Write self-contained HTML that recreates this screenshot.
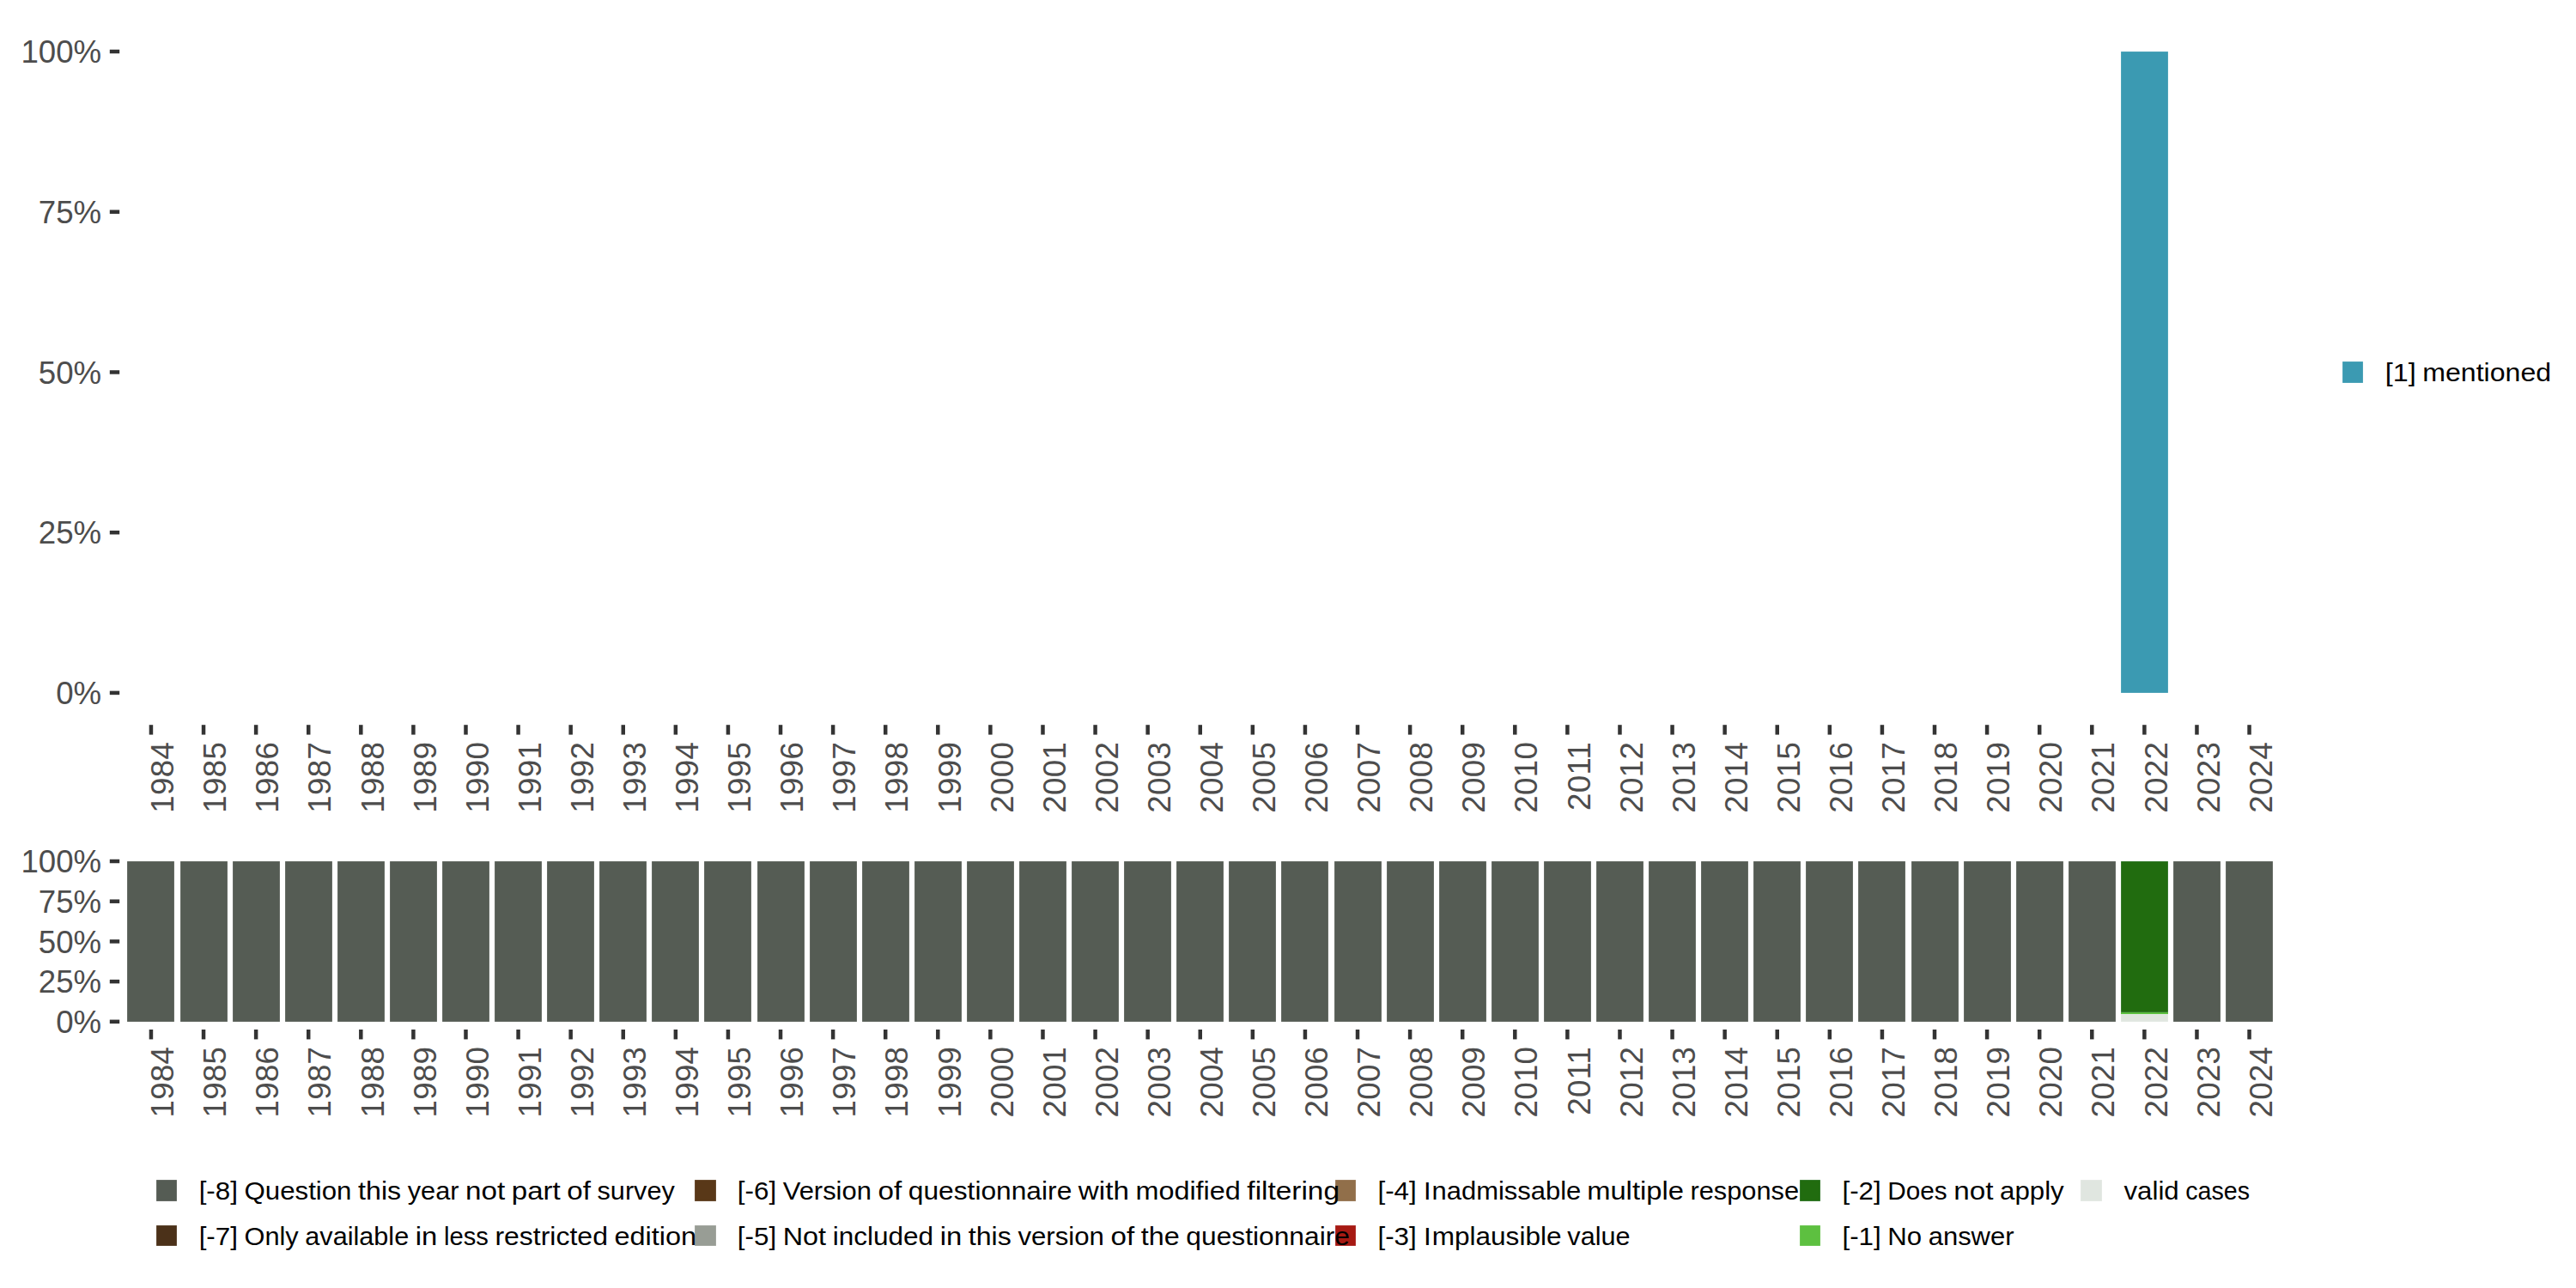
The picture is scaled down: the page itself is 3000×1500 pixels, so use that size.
<!DOCTYPE html>
<html lang="en"><head><meta charset="utf-8"><title>Item distribution by survey year</title>
<style>
html,body{margin:0;padding:0;background:#fff;}
body{width:3000px;height:1500px;overflow:hidden;}
svg{display:block;}
text{font-family:"Liberation Sans",sans-serif;}
.ax{font-size:36.67px;fill:#4d4d4d;}
.xl{letter-spacing:0.3px;}
.lg{font-size:30.00px;fill:#000;}
.tk{stroke:#333333;stroke-width:4.50;fill:none;}
</style></head><body>
<svg width="3000" height="1500" viewBox="0 0 3000 1500">
<rect x="0" y="0" width="3000" height="1500" fill="#ffffff"/>
<g id="upper">
<rect x="2470.5" y="60.5" width="54.0" height="746.0" fill="#3b9ab2" stroke="#258fa9" stroke-opacity=".65" stroke-width="1"/>
<line class="tk" x1="127.80" x2="139.20" y1="60.00" y2="60.00"/>
<text class="ax" text-anchor="end" x="118.20" y="73.10">100%</text>
<line class="tk" x1="127.80" x2="139.20" y1="246.72" y2="246.72"/>
<text class="ax" text-anchor="end" x="118.20" y="259.82">75%</text>
<line class="tk" x1="127.80" x2="139.20" y1="433.45" y2="433.45"/>
<text class="ax" text-anchor="end" x="118.20" y="446.55">50%</text>
<line class="tk" x1="127.80" x2="139.20" y1="620.17" y2="620.17"/>
<text class="ax" text-anchor="end" x="118.20" y="633.27">25%</text>
<line class="tk" x1="127.80" x2="139.20" y1="806.90" y2="806.90"/>
<text class="ax" text-anchor="end" x="118.20" y="820.00">0%</text>
<line class="tk" x1="175.95" x2="175.95" y1="844.20" y2="855.60"/>
<text class="ax xl" text-anchor="end" transform="translate(202.15 863.90) rotate(-90)">1984</text>
<line class="tk" x1="237.04" x2="237.04" y1="844.20" y2="855.60"/>
<text class="ax xl" text-anchor="end" transform="translate(263.24 863.90) rotate(-90)">1985</text>
<line class="tk" x1="298.13" x2="298.13" y1="844.20" y2="855.60"/>
<text class="ax xl" text-anchor="end" transform="translate(324.33 863.90) rotate(-90)">1986</text>
<line class="tk" x1="359.22" x2="359.22" y1="844.20" y2="855.60"/>
<text class="ax xl" text-anchor="end" transform="translate(385.42 863.90) rotate(-90)">1987</text>
<line class="tk" x1="420.31" x2="420.31" y1="844.20" y2="855.60"/>
<text class="ax xl" text-anchor="end" transform="translate(446.51 863.90) rotate(-90)">1988</text>
<line class="tk" x1="481.40" x2="481.40" y1="844.20" y2="855.60"/>
<text class="ax xl" text-anchor="end" transform="translate(507.60 863.90) rotate(-90)">1989</text>
<line class="tk" x1="542.49" x2="542.49" y1="844.20" y2="855.60"/>
<text class="ax xl" text-anchor="end" transform="translate(568.69 863.90) rotate(-90)">1990</text>
<line class="tk" x1="603.58" x2="603.58" y1="844.20" y2="855.60"/>
<text class="ax xl" text-anchor="end" transform="translate(629.78 863.90) rotate(-90)">1991</text>
<line class="tk" x1="664.67" x2="664.67" y1="844.20" y2="855.60"/>
<text class="ax xl" text-anchor="end" transform="translate(690.87 863.90) rotate(-90)">1992</text>
<line class="tk" x1="725.76" x2="725.76" y1="844.20" y2="855.60"/>
<text class="ax xl" text-anchor="end" transform="translate(751.96 863.90) rotate(-90)">1993</text>
<line class="tk" x1="786.85" x2="786.85" y1="844.20" y2="855.60"/>
<text class="ax xl" text-anchor="end" transform="translate(813.05 863.90) rotate(-90)">1994</text>
<line class="tk" x1="847.94" x2="847.94" y1="844.20" y2="855.60"/>
<text class="ax xl" text-anchor="end" transform="translate(874.14 863.90) rotate(-90)">1995</text>
<line class="tk" x1="909.03" x2="909.03" y1="844.20" y2="855.60"/>
<text class="ax xl" text-anchor="end" transform="translate(935.23 863.90) rotate(-90)">1996</text>
<line class="tk" x1="970.12" x2="970.12" y1="844.20" y2="855.60"/>
<text class="ax xl" text-anchor="end" transform="translate(996.32 863.90) rotate(-90)">1997</text>
<line class="tk" x1="1031.21" x2="1031.21" y1="844.20" y2="855.60"/>
<text class="ax xl" text-anchor="end" transform="translate(1057.41 863.90) rotate(-90)">1998</text>
<line class="tk" x1="1092.30" x2="1092.30" y1="844.20" y2="855.60"/>
<text class="ax xl" text-anchor="end" transform="translate(1118.50 863.90) rotate(-90)">1999</text>
<line class="tk" x1="1153.39" x2="1153.39" y1="844.20" y2="855.60"/>
<text class="ax xl" text-anchor="end" transform="translate(1179.59 863.90) rotate(-90)">2000</text>
<line class="tk" x1="1214.48" x2="1214.48" y1="844.20" y2="855.60"/>
<text class="ax xl" text-anchor="end" transform="translate(1240.68 863.90) rotate(-90)">2001</text>
<line class="tk" x1="1275.57" x2="1275.57" y1="844.20" y2="855.60"/>
<text class="ax xl" text-anchor="end" transform="translate(1301.77 863.90) rotate(-90)">2002</text>
<line class="tk" x1="1336.66" x2="1336.66" y1="844.20" y2="855.60"/>
<text class="ax xl" text-anchor="end" transform="translate(1362.86 863.90) rotate(-90)">2003</text>
<line class="tk" x1="1397.75" x2="1397.75" y1="844.20" y2="855.60"/>
<text class="ax xl" text-anchor="end" transform="translate(1423.95 863.90) rotate(-90)">2004</text>
<line class="tk" x1="1458.84" x2="1458.84" y1="844.20" y2="855.60"/>
<text class="ax xl" text-anchor="end" transform="translate(1485.04 863.90) rotate(-90)">2005</text>
<line class="tk" x1="1519.93" x2="1519.93" y1="844.20" y2="855.60"/>
<text class="ax xl" text-anchor="end" transform="translate(1546.13 863.90) rotate(-90)">2006</text>
<line class="tk" x1="1581.02" x2="1581.02" y1="844.20" y2="855.60"/>
<text class="ax xl" text-anchor="end" transform="translate(1607.22 863.90) rotate(-90)">2007</text>
<line class="tk" x1="1642.11" x2="1642.11" y1="844.20" y2="855.60"/>
<text class="ax xl" text-anchor="end" transform="translate(1668.31 863.90) rotate(-90)">2008</text>
<line class="tk" x1="1703.20" x2="1703.20" y1="844.20" y2="855.60"/>
<text class="ax xl" text-anchor="end" transform="translate(1729.40 863.90) rotate(-90)">2009</text>
<line class="tk" x1="1764.29" x2="1764.29" y1="844.20" y2="855.60"/>
<text class="ax xl" text-anchor="end" transform="translate(1790.49 863.90) rotate(-90)">2010</text>
<line class="tk" x1="1825.38" x2="1825.38" y1="844.20" y2="855.60"/>
<text class="ax xl" text-anchor="end" transform="translate(1851.58 863.90) rotate(-90)">2011</text>
<line class="tk" x1="1886.47" x2="1886.47" y1="844.20" y2="855.60"/>
<text class="ax xl" text-anchor="end" transform="translate(1912.67 863.90) rotate(-90)">2012</text>
<line class="tk" x1="1947.56" x2="1947.56" y1="844.20" y2="855.60"/>
<text class="ax xl" text-anchor="end" transform="translate(1973.76 863.90) rotate(-90)">2013</text>
<line class="tk" x1="2008.65" x2="2008.65" y1="844.20" y2="855.60"/>
<text class="ax xl" text-anchor="end" transform="translate(2034.85 863.90) rotate(-90)">2014</text>
<line class="tk" x1="2069.74" x2="2069.74" y1="844.20" y2="855.60"/>
<text class="ax xl" text-anchor="end" transform="translate(2095.94 863.90) rotate(-90)">2015</text>
<line class="tk" x1="2130.83" x2="2130.83" y1="844.20" y2="855.60"/>
<text class="ax xl" text-anchor="end" transform="translate(2157.03 863.90) rotate(-90)">2016</text>
<line class="tk" x1="2191.92" x2="2191.92" y1="844.20" y2="855.60"/>
<text class="ax xl" text-anchor="end" transform="translate(2218.12 863.90) rotate(-90)">2017</text>
<line class="tk" x1="2253.01" x2="2253.01" y1="844.20" y2="855.60"/>
<text class="ax xl" text-anchor="end" transform="translate(2279.21 863.90) rotate(-90)">2018</text>
<line class="tk" x1="2314.10" x2="2314.10" y1="844.20" y2="855.60"/>
<text class="ax xl" text-anchor="end" transform="translate(2340.30 863.90) rotate(-90)">2019</text>
<line class="tk" x1="2375.19" x2="2375.19" y1="844.20" y2="855.60"/>
<text class="ax xl" text-anchor="end" transform="translate(2401.39 863.90) rotate(-90)">2020</text>
<line class="tk" x1="2436.28" x2="2436.28" y1="844.20" y2="855.60"/>
<text class="ax xl" text-anchor="end" transform="translate(2462.48 863.90) rotate(-90)">2021</text>
<line class="tk" x1="2497.37" x2="2497.37" y1="844.20" y2="855.60"/>
<text class="ax xl" text-anchor="end" transform="translate(2523.57 863.90) rotate(-90)">2022</text>
<line class="tk" x1="2558.46" x2="2558.46" y1="844.20" y2="855.60"/>
<text class="ax xl" text-anchor="end" transform="translate(2584.66 863.90) rotate(-90)">2023</text>
<line class="tk" x1="2619.55" x2="2619.55" y1="844.20" y2="855.60"/>
<text class="ax xl" text-anchor="end" transform="translate(2645.75 863.90) rotate(-90)">2024</text>
</g>
<g id="lower">
<rect x="148.5" y="1003.5" width="54.0" height="186.0" fill="#555c54" stroke="#424a41" stroke-opacity=".65" stroke-width="1"/>
<rect x="210.5" y="1003.5" width="54.0" height="186.0" fill="#555c54" stroke="#424a41" stroke-opacity=".65" stroke-width="1"/>
<rect x="271.5" y="1003.5" width="54.0" height="186.0" fill="#555c54" stroke="#424a41" stroke-opacity=".65" stroke-width="1"/>
<rect x="332.5" y="1003.5" width="54.0" height="186.0" fill="#555c54" stroke="#424a41" stroke-opacity=".65" stroke-width="1"/>
<rect x="393.5" y="1003.5" width="54.0" height="186.0" fill="#555c54" stroke="#424a41" stroke-opacity=".65" stroke-width="1"/>
<rect x="454.5" y="1003.5" width="54.0" height="186.0" fill="#555c54" stroke="#424a41" stroke-opacity=".65" stroke-width="1"/>
<rect x="515.5" y="1003.5" width="54.0" height="186.0" fill="#555c54" stroke="#424a41" stroke-opacity=".65" stroke-width="1"/>
<rect x="576.5" y="1003.5" width="54.0" height="186.0" fill="#555c54" stroke="#424a41" stroke-opacity=".65" stroke-width="1"/>
<rect x="637.5" y="1003.5" width="54.0" height="186.0" fill="#555c54" stroke="#424a41" stroke-opacity=".65" stroke-width="1"/>
<rect x="698.5" y="1003.5" width="54.0" height="186.0" fill="#555c54" stroke="#424a41" stroke-opacity=".65" stroke-width="1"/>
<rect x="759.5" y="1003.5" width="54.0" height="186.0" fill="#555c54" stroke="#424a41" stroke-opacity=".65" stroke-width="1"/>
<rect x="820.5" y="1003.5" width="54.0" height="186.0" fill="#555c54" stroke="#424a41" stroke-opacity=".65" stroke-width="1"/>
<rect x="882.5" y="1003.5" width="54.0" height="186.0" fill="#555c54" stroke="#424a41" stroke-opacity=".65" stroke-width="1"/>
<rect x="943.5" y="1003.5" width="54.0" height="186.0" fill="#555c54" stroke="#424a41" stroke-opacity=".65" stroke-width="1"/>
<rect x="1004.5" y="1003.5" width="54.0" height="186.0" fill="#555c54" stroke="#424a41" stroke-opacity=".65" stroke-width="1"/>
<rect x="1065.5" y="1003.5" width="54.0" height="186.0" fill="#555c54" stroke="#424a41" stroke-opacity=".65" stroke-width="1"/>
<rect x="1126.5" y="1003.5" width="54.0" height="186.0" fill="#555c54" stroke="#424a41" stroke-opacity=".65" stroke-width="1"/>
<rect x="1187.5" y="1003.5" width="54.0" height="186.0" fill="#555c54" stroke="#424a41" stroke-opacity=".65" stroke-width="1"/>
<rect x="1248.5" y="1003.5" width="54.0" height="186.0" fill="#555c54" stroke="#424a41" stroke-opacity=".65" stroke-width="1"/>
<rect x="1309.5" y="1003.5" width="54.0" height="186.0" fill="#555c54" stroke="#424a41" stroke-opacity=".65" stroke-width="1"/>
<rect x="1370.5" y="1003.5" width="54.0" height="186.0" fill="#555c54" stroke="#424a41" stroke-opacity=".65" stroke-width="1"/>
<rect x="1431.5" y="1003.5" width="54.0" height="186.0" fill="#555c54" stroke="#424a41" stroke-opacity=".65" stroke-width="1"/>
<rect x="1492.5" y="1003.5" width="54.0" height="186.0" fill="#555c54" stroke="#424a41" stroke-opacity=".65" stroke-width="1"/>
<rect x="1554.5" y="1003.5" width="54.0" height="186.0" fill="#555c54" stroke="#424a41" stroke-opacity=".65" stroke-width="1"/>
<rect x="1615.5" y="1003.5" width="54.0" height="186.0" fill="#555c54" stroke="#424a41" stroke-opacity=".65" stroke-width="1"/>
<rect x="1676.5" y="1003.5" width="54.0" height="186.0" fill="#555c54" stroke="#424a41" stroke-opacity=".65" stroke-width="1"/>
<rect x="1737.5" y="1003.5" width="54.0" height="186.0" fill="#555c54" stroke="#424a41" stroke-opacity=".65" stroke-width="1"/>
<rect x="1798.5" y="1003.5" width="54.0" height="186.0" fill="#555c54" stroke="#424a41" stroke-opacity=".65" stroke-width="1"/>
<rect x="1859.5" y="1003.5" width="54.0" height="186.0" fill="#555c54" stroke="#424a41" stroke-opacity=".65" stroke-width="1"/>
<rect x="1920.5" y="1003.5" width="54.0" height="186.0" fill="#555c54" stroke="#424a41" stroke-opacity=".65" stroke-width="1"/>
<rect x="1981.5" y="1003.5" width="54.0" height="186.0" fill="#555c54" stroke="#424a41" stroke-opacity=".65" stroke-width="1"/>
<rect x="2042.5" y="1003.5" width="54.0" height="186.0" fill="#555c54" stroke="#424a41" stroke-opacity=".65" stroke-width="1"/>
<rect x="2103.5" y="1003.5" width="54.0" height="186.0" fill="#555c54" stroke="#424a41" stroke-opacity=".65" stroke-width="1"/>
<rect x="2164.5" y="1003.5" width="54.0" height="186.0" fill="#555c54" stroke="#424a41" stroke-opacity=".65" stroke-width="1"/>
<rect x="2226.5" y="1003.5" width="54.0" height="186.0" fill="#555c54" stroke="#424a41" stroke-opacity=".65" stroke-width="1"/>
<rect x="2287.5" y="1003.5" width="54.0" height="186.0" fill="#555c54" stroke="#424a41" stroke-opacity=".65" stroke-width="1"/>
<rect x="2348.5" y="1003.5" width="54.0" height="186.0" fill="#555c54" stroke="#424a41" stroke-opacity=".65" stroke-width="1"/>
<rect x="2409.5" y="1003.5" width="54.0" height="186.0" fill="#555c54" stroke="#424a41" stroke-opacity=".65" stroke-width="1"/>
<rect x="2470.5" y="1003.5" width="54.0" height="175.0" fill="#216c0f" stroke="#085c00" stroke-opacity=".65" stroke-width="1"/>
<rect x="2470.0" y="1179.0" width="55.0" height="2.0" fill="#5dc040"/>
<rect x="2470.5" y="1181.5" width="54.0" height="8.0" fill="#e0e6e0" stroke="#dde3dd" stroke-opacity=".65" stroke-width="1"/>
<rect x="2531.5" y="1003.5" width="54.0" height="186.0" fill="#555c54" stroke="#424a41" stroke-opacity=".65" stroke-width="1"/>
<rect x="2592.5" y="1003.5" width="54.0" height="186.0" fill="#555c54" stroke="#424a41" stroke-opacity=".65" stroke-width="1"/>
<line class="tk" x1="127.80" x2="139.20" y1="1003.00" y2="1003.00"/>
<text class="ax" text-anchor="end" x="118.20" y="1016.10">100%</text>
<line class="tk" x1="127.80" x2="139.20" y1="1049.70" y2="1049.70"/>
<text class="ax" text-anchor="end" x="118.20" y="1062.80">75%</text>
<line class="tk" x1="127.80" x2="139.20" y1="1096.40" y2="1096.40"/>
<text class="ax" text-anchor="end" x="118.20" y="1109.50">50%</text>
<line class="tk" x1="127.80" x2="139.20" y1="1143.10" y2="1143.10"/>
<text class="ax" text-anchor="end" x="118.20" y="1156.20">25%</text>
<line class="tk" x1="127.80" x2="139.20" y1="1189.80" y2="1189.80"/>
<text class="ax" text-anchor="end" x="118.20" y="1202.90">0%</text>
<line class="tk" x1="175.95" x2="175.95" y1="1199.00" y2="1210.40"/>
<text class="ax xl" text-anchor="end" transform="translate(202.15 1218.70) rotate(-90)">1984</text>
<line class="tk" x1="237.04" x2="237.04" y1="1199.00" y2="1210.40"/>
<text class="ax xl" text-anchor="end" transform="translate(263.24 1218.70) rotate(-90)">1985</text>
<line class="tk" x1="298.13" x2="298.13" y1="1199.00" y2="1210.40"/>
<text class="ax xl" text-anchor="end" transform="translate(324.33 1218.70) rotate(-90)">1986</text>
<line class="tk" x1="359.22" x2="359.22" y1="1199.00" y2="1210.40"/>
<text class="ax xl" text-anchor="end" transform="translate(385.42 1218.70) rotate(-90)">1987</text>
<line class="tk" x1="420.31" x2="420.31" y1="1199.00" y2="1210.40"/>
<text class="ax xl" text-anchor="end" transform="translate(446.51 1218.70) rotate(-90)">1988</text>
<line class="tk" x1="481.40" x2="481.40" y1="1199.00" y2="1210.40"/>
<text class="ax xl" text-anchor="end" transform="translate(507.60 1218.70) rotate(-90)">1989</text>
<line class="tk" x1="542.49" x2="542.49" y1="1199.00" y2="1210.40"/>
<text class="ax xl" text-anchor="end" transform="translate(568.69 1218.70) rotate(-90)">1990</text>
<line class="tk" x1="603.58" x2="603.58" y1="1199.00" y2="1210.40"/>
<text class="ax xl" text-anchor="end" transform="translate(629.78 1218.70) rotate(-90)">1991</text>
<line class="tk" x1="664.67" x2="664.67" y1="1199.00" y2="1210.40"/>
<text class="ax xl" text-anchor="end" transform="translate(690.87 1218.70) rotate(-90)">1992</text>
<line class="tk" x1="725.76" x2="725.76" y1="1199.00" y2="1210.40"/>
<text class="ax xl" text-anchor="end" transform="translate(751.96 1218.70) rotate(-90)">1993</text>
<line class="tk" x1="786.85" x2="786.85" y1="1199.00" y2="1210.40"/>
<text class="ax xl" text-anchor="end" transform="translate(813.05 1218.70) rotate(-90)">1994</text>
<line class="tk" x1="847.94" x2="847.94" y1="1199.00" y2="1210.40"/>
<text class="ax xl" text-anchor="end" transform="translate(874.14 1218.70) rotate(-90)">1995</text>
<line class="tk" x1="909.03" x2="909.03" y1="1199.00" y2="1210.40"/>
<text class="ax xl" text-anchor="end" transform="translate(935.23 1218.70) rotate(-90)">1996</text>
<line class="tk" x1="970.12" x2="970.12" y1="1199.00" y2="1210.40"/>
<text class="ax xl" text-anchor="end" transform="translate(996.32 1218.70) rotate(-90)">1997</text>
<line class="tk" x1="1031.21" x2="1031.21" y1="1199.00" y2="1210.40"/>
<text class="ax xl" text-anchor="end" transform="translate(1057.41 1218.70) rotate(-90)">1998</text>
<line class="tk" x1="1092.30" x2="1092.30" y1="1199.00" y2="1210.40"/>
<text class="ax xl" text-anchor="end" transform="translate(1118.50 1218.70) rotate(-90)">1999</text>
<line class="tk" x1="1153.39" x2="1153.39" y1="1199.00" y2="1210.40"/>
<text class="ax xl" text-anchor="end" transform="translate(1179.59 1218.70) rotate(-90)">2000</text>
<line class="tk" x1="1214.48" x2="1214.48" y1="1199.00" y2="1210.40"/>
<text class="ax xl" text-anchor="end" transform="translate(1240.68 1218.70) rotate(-90)">2001</text>
<line class="tk" x1="1275.57" x2="1275.57" y1="1199.00" y2="1210.40"/>
<text class="ax xl" text-anchor="end" transform="translate(1301.77 1218.70) rotate(-90)">2002</text>
<line class="tk" x1="1336.66" x2="1336.66" y1="1199.00" y2="1210.40"/>
<text class="ax xl" text-anchor="end" transform="translate(1362.86 1218.70) rotate(-90)">2003</text>
<line class="tk" x1="1397.75" x2="1397.75" y1="1199.00" y2="1210.40"/>
<text class="ax xl" text-anchor="end" transform="translate(1423.95 1218.70) rotate(-90)">2004</text>
<line class="tk" x1="1458.84" x2="1458.84" y1="1199.00" y2="1210.40"/>
<text class="ax xl" text-anchor="end" transform="translate(1485.04 1218.70) rotate(-90)">2005</text>
<line class="tk" x1="1519.93" x2="1519.93" y1="1199.00" y2="1210.40"/>
<text class="ax xl" text-anchor="end" transform="translate(1546.13 1218.70) rotate(-90)">2006</text>
<line class="tk" x1="1581.02" x2="1581.02" y1="1199.00" y2="1210.40"/>
<text class="ax xl" text-anchor="end" transform="translate(1607.22 1218.70) rotate(-90)">2007</text>
<line class="tk" x1="1642.11" x2="1642.11" y1="1199.00" y2="1210.40"/>
<text class="ax xl" text-anchor="end" transform="translate(1668.31 1218.70) rotate(-90)">2008</text>
<line class="tk" x1="1703.20" x2="1703.20" y1="1199.00" y2="1210.40"/>
<text class="ax xl" text-anchor="end" transform="translate(1729.40 1218.70) rotate(-90)">2009</text>
<line class="tk" x1="1764.29" x2="1764.29" y1="1199.00" y2="1210.40"/>
<text class="ax xl" text-anchor="end" transform="translate(1790.49 1218.70) rotate(-90)">2010</text>
<line class="tk" x1="1825.38" x2="1825.38" y1="1199.00" y2="1210.40"/>
<text class="ax xl" text-anchor="end" transform="translate(1851.58 1218.70) rotate(-90)">2011</text>
<line class="tk" x1="1886.47" x2="1886.47" y1="1199.00" y2="1210.40"/>
<text class="ax xl" text-anchor="end" transform="translate(1912.67 1218.70) rotate(-90)">2012</text>
<line class="tk" x1="1947.56" x2="1947.56" y1="1199.00" y2="1210.40"/>
<text class="ax xl" text-anchor="end" transform="translate(1973.76 1218.70) rotate(-90)">2013</text>
<line class="tk" x1="2008.65" x2="2008.65" y1="1199.00" y2="1210.40"/>
<text class="ax xl" text-anchor="end" transform="translate(2034.85 1218.70) rotate(-90)">2014</text>
<line class="tk" x1="2069.74" x2="2069.74" y1="1199.00" y2="1210.40"/>
<text class="ax xl" text-anchor="end" transform="translate(2095.94 1218.70) rotate(-90)">2015</text>
<line class="tk" x1="2130.83" x2="2130.83" y1="1199.00" y2="1210.40"/>
<text class="ax xl" text-anchor="end" transform="translate(2157.03 1218.70) rotate(-90)">2016</text>
<line class="tk" x1="2191.92" x2="2191.92" y1="1199.00" y2="1210.40"/>
<text class="ax xl" text-anchor="end" transform="translate(2218.12 1218.70) rotate(-90)">2017</text>
<line class="tk" x1="2253.01" x2="2253.01" y1="1199.00" y2="1210.40"/>
<text class="ax xl" text-anchor="end" transform="translate(2279.21 1218.70) rotate(-90)">2018</text>
<line class="tk" x1="2314.10" x2="2314.10" y1="1199.00" y2="1210.40"/>
<text class="ax xl" text-anchor="end" transform="translate(2340.30 1218.70) rotate(-90)">2019</text>
<line class="tk" x1="2375.19" x2="2375.19" y1="1199.00" y2="1210.40"/>
<text class="ax xl" text-anchor="end" transform="translate(2401.39 1218.70) rotate(-90)">2020</text>
<line class="tk" x1="2436.28" x2="2436.28" y1="1199.00" y2="1210.40"/>
<text class="ax xl" text-anchor="end" transform="translate(2462.48 1218.70) rotate(-90)">2021</text>
<line class="tk" x1="2497.37" x2="2497.37" y1="1199.00" y2="1210.40"/>
<text class="ax xl" text-anchor="end" transform="translate(2523.57 1218.70) rotate(-90)">2022</text>
<line class="tk" x1="2558.46" x2="2558.46" y1="1199.00" y2="1210.40"/>
<text class="ax xl" text-anchor="end" transform="translate(2584.66 1218.70) rotate(-90)">2023</text>
<line class="tk" x1="2619.55" x2="2619.55" y1="1199.00" y2="1210.40"/>
<text class="ax xl" text-anchor="end" transform="translate(2645.75 1218.70) rotate(-90)">2024</text>
</g>
<g id="legend-top">
<rect x="2728.5" y="421.5" width="23.0" height="24.0" fill="#3b9ab2" stroke="#258fa9" stroke-opacity=".65" stroke-width="1"/>
<text class="lg" id="lg0" y="443.90"><tspan x="2777.77" textLength="35.88" lengthAdjust="spacingAndGlyphs">[1]</tspan> <tspan x="2821.23" textLength="149.88" lengthAdjust="spacingAndGlyphs">mentioned</tspan></text>
</g>
<g id="legend-bottom">
<rect x="182.5" y="1374.5" width="23.0" height="24.0" fill="#555c54" stroke="#424a41" stroke-opacity=".65" stroke-width="1"/>
<rect x="182.5" y="1427.5" width="23.0" height="23.0" fill="#4b3119" stroke="#371a00" stroke-opacity=".65" stroke-width="1"/>
<rect x="809.5" y="1374.5" width="24.0" height="24.0" fill="#593818" stroke="#472200" stroke-opacity=".65" stroke-width="1"/>
<rect x="809.5" y="1427.5" width="24.0" height="23.0" fill="#989d95" stroke="#8d9289" stroke-opacity=".65" stroke-width="1"/>
<rect x="1555.5" y="1374.5" width="23.0" height="24.0" fill="#916f4a" stroke="#855f36" stroke-opacity=".65" stroke-width="1"/>
<rect x="1555.5" y="1427.5" width="23.0" height="23.0" fill="#a71a13" stroke="#9d0100" stroke-opacity=".65" stroke-width="1"/>
<rect x="2096.5" y="1374.5" width="23.0" height="24.0" fill="#216c0f" stroke="#085c00" stroke-opacity=".65" stroke-width="1"/>
<rect x="2096.5" y="1427.5" width="23.0" height="23.0" fill="#5dc040" stroke="#4bb92b" stroke-opacity=".65" stroke-width="1"/>
<rect x="2423.5" y="1374.5" width="24.0" height="24.0" fill="#e0e6e0" stroke="#dde3dd" stroke-opacity=".65" stroke-width="1"/>
<text class="lg" id="lg1" y="1396.90"><tspan x="231.67" textLength="45.27" lengthAdjust="spacingAndGlyphs">[-8]</tspan> <tspan x="284.52" textLength="124.96" lengthAdjust="spacingAndGlyphs">Question</tspan> <tspan x="417.07" textLength="50.06" lengthAdjust="spacingAndGlyphs">this</tspan> <tspan x="474.71" textLength="59.74" lengthAdjust="spacingAndGlyphs">year</tspan> <tspan x="542.04" textLength="46.21" lengthAdjust="spacingAndGlyphs">not</tspan> <tspan x="595.82" textLength="56.88" lengthAdjust="spacingAndGlyphs">part</tspan> <tspan x="660.29" textLength="27.68" lengthAdjust="spacingAndGlyphs">of</tspan> <tspan x="695.56" textLength="90.19" lengthAdjust="spacingAndGlyphs">survey</tspan></text>
<text class="lg" id="lg2" y="1449.90"><tspan x="231.67" textLength="45.27" lengthAdjust="spacingAndGlyphs">[-7]</tspan> <tspan x="284.52" textLength="63.21" lengthAdjust="spacingAndGlyphs">Only</tspan> <tspan x="355.32" textLength="120.88" lengthAdjust="spacingAndGlyphs">available</tspan> <tspan x="483.78" textLength="25.55" lengthAdjust="spacingAndGlyphs">in</tspan> <tspan x="516.92" textLength="51.92" lengthAdjust="spacingAndGlyphs">less</tspan> <tspan x="576.43" textLength="131.50" lengthAdjust="spacingAndGlyphs">restricted</tspan> <tspan x="715.51" textLength="95.65" lengthAdjust="spacingAndGlyphs">edition</tspan></text>
<text class="lg" id="lg3" y="1396.90"><tspan x="858.87" textLength="45.27" lengthAdjust="spacingAndGlyphs">[-6]</tspan> <tspan x="911.72" textLength="103.17" lengthAdjust="spacingAndGlyphs">Version</tspan> <tspan x="1022.48" textLength="27.68" lengthAdjust="spacingAndGlyphs">of</tspan> <tspan x="1057.75" textLength="190.54" lengthAdjust="spacingAndGlyphs">questionnaire</tspan> <tspan x="1255.87" textLength="59.01" lengthAdjust="spacingAndGlyphs">with</tspan> <tspan x="1322.47" textLength="122.34" lengthAdjust="spacingAndGlyphs">modified</tspan> <tspan x="1452.39" textLength="107.61" lengthAdjust="spacingAndGlyphs">filtering</tspan></text>
<text class="lg" id="lg4" y="1449.90"><tspan x="858.87" textLength="45.27" lengthAdjust="spacingAndGlyphs">[-5]</tspan> <tspan x="911.72" textLength="50.35" lengthAdjust="spacingAndGlyphs">Not</tspan> <tspan x="969.65" textLength="117.44" lengthAdjust="spacingAndGlyphs">included</tspan> <tspan x="1094.68" textLength="25.55" lengthAdjust="spacingAndGlyphs">in</tspan> <tspan x="1127.81" textLength="50.06" lengthAdjust="spacingAndGlyphs">this</tspan> <tspan x="1185.45" textLength="100.49" lengthAdjust="spacingAndGlyphs">version</tspan> <tspan x="1293.53" textLength="27.68" lengthAdjust="spacingAndGlyphs">of</tspan> <tspan x="1328.80" textLength="45.01" lengthAdjust="spacingAndGlyphs">the</tspan> <tspan x="1381.39" textLength="190.54" lengthAdjust="spacingAndGlyphs">questionnaire</tspan></text>
<text class="lg" id="lg5" y="1396.90"><tspan x="1604.47" textLength="45.27" lengthAdjust="spacingAndGlyphs">[-4]</tspan> <tspan x="1657.32" dx="0.77 0.77" textLength="183.25" lengthAdjust="spacingAndGlyphs">Inadmissable</tspan> <tspan x="1848.15" textLength="112.80" lengthAdjust="spacingAndGlyphs">multiple</tspan> <tspan x="1968.54" textLength="126.51" lengthAdjust="spacingAndGlyphs">response</tspan></text>
<text class="lg" id="lg6" y="1449.90"><tspan x="1604.47" textLength="45.27" lengthAdjust="spacingAndGlyphs">[-3]</tspan> <tspan x="1657.32" dx="0.77 0.77" textLength="160.44" lengthAdjust="spacingAndGlyphs">Implausible</tspan> <tspan x="1825.34" textLength="73.19" lengthAdjust="spacingAndGlyphs">value</tspan></text>
<text class="lg" id="lg7" y="1396.90"><tspan x="2145.47" textLength="45.27" lengthAdjust="spacingAndGlyphs">[-2]</tspan> <tspan x="2198.32" textLength="69.37" lengthAdjust="spacingAndGlyphs">Does</tspan> <tspan x="2275.27" textLength="46.21" lengthAdjust="spacingAndGlyphs">not</tspan> <tspan x="2329.06" textLength="74.65" lengthAdjust="spacingAndGlyphs">apply</tspan></text>
<text class="lg" id="lg8" y="1449.90"><tspan x="2145.47" textLength="45.27" lengthAdjust="spacingAndGlyphs">[-1]</tspan> <tspan x="2198.32" textLength="39.82" lengthAdjust="spacingAndGlyphs">No</tspan> <tspan x="2245.72" textLength="99.79" lengthAdjust="spacingAndGlyphs">answer</tspan></text>
<text class="lg" id="lg9" y="1396.90"><tspan x="2473.50" textLength="64.17" lengthAdjust="spacingAndGlyphs">valid</tspan> <tspan x="2545.26" textLength="74.76" lengthAdjust="spacingAndGlyphs">cases</tspan></text>
</g>
</svg>
</body></html>
